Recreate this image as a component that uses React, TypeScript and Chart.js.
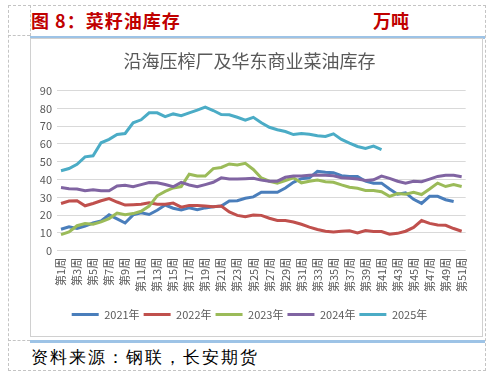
import React, { useEffect, useRef } from "react";
import { Chart, registerables } from "chart.js";

Chart.register(...registerables);

const weeks: string[] = Array.from({ length: 51 }, (_, i) => `第${i + 1}周`);

const seriesNames = ["2021年", "2022年", "2023年", "2024年", "2025年"];
const seriesColors = ["#4A7EBB", "#C0504D", "#9BBB59", "#8064A2", "#4BACC6"];

const y2021: (number | null)[] = [12.1, 13.5, 12.5, 13.9, 15.6, 16.8, 20.2, 17.9, 15.6, 20.2, 21.4, 20.4, 22.8, 25.7, 23.9, 23, 24.1, 23.1, 24.1, 24.7, 25.1, 28, 28.1, 29.5, 30.3, 32.9, 32.9, 32.9, 35.3, 38.5, 40.5, 41, 44.7, 44.1, 43.9, 42.2, 41.8, 41.8, 39.1, 38, 38, 34.7, 31.8, 32.6, 28.9, 26.6, 30.6, 30.6, 28.7, 27.7, null];
const y2022: (number | null)[] = [26.6, 28, 28.1, 25.3, 26.6, 28.1, 29.3, 27.4, 25.7, 25.9, 26.1, 27, 26.1, 26.1, 26.8, 24.5, 25.5, 25.4, 25.1, 24.7, 25.1, 21.8, 19.9, 19.1, 20.1, 19.9, 18.3, 17, 17, 16.2, 14.9, 13.3, 12, 11, 10.6, 11, 11.2, 10, 11.4, 10.8, 10.8, 9.3, 9.8, 11, 13.1, 17, 15.4, 14.5, 14.3, 12.5, 11];
const y2023: (number | null)[] = [9.1, 10.6, 14.1, 15.3, 14.9, 16.2, 18.1, 21.2, 20.2, 20.9, 22.2, 25.1, 30.9, 33.4, 35.3, 36.1, 43, 42, 42, 46.2, 46.8, 48.8, 48.2, 49.1, 45.7, 40.9, 39.1, 38, 39.5, 41, 38.2, 39.1, 39.7, 38.8, 38.5, 37, 35.7, 35.1, 33.9, 33.9, 33.2, 30.6, 32.2, 31.8, 32.9, 31.6, 34.7, 38, 36.1, 37.2, 36.1];
const y2024: (number | null)[] = [35.5, 34.9, 34.7, 33.7, 34.3, 33.7, 33.7, 36.4, 36.8, 36, 37.2, 38.4, 38.2, 37.2, 36, 38.4, 37, 36, 37.2, 38.5, 41, 40.3, 40.3, 40.5, 40.7, 39.7, 39.1, 39.1, 41.3, 42, 42, 42.4, 42.6, 42.5, 42.2, 41, 40.7, 40.3, 39.5, 39.9, 42, 40.7, 39.1, 38, 39, 38.8, 40.3, 41.8, 42.4, 42.4, 41.6];
const y2025: (number | null)[] = [45, 46.2, 48.6, 52.8, 53.4, 60.7, 62.6, 65.3, 65.9, 71.9, 73.6, 77.5, 77.5, 75.4, 76.9, 75.9, 77.5, 79, 80.7, 78.8, 76.5, 76.4, 75, 73.4, 75, 71.9, 69.4, 68, 67, 65.3, 65.9, 65.5, 64.6, 64.2, 65.7, 62.6, 60.5, 58.6, 57.5, 58.8, 56.9, null, null, null, null, null, null, null, null, null, null];

const seriesValues = [y2021, y2022, y2023, y2024, y2025];

const FONT = '"Noto Sans CJK SC", "Noto Sans", sans-serif';

function ChartBox() {
  const ref = useRef<HTMLCanvasElement | null>(null);
  useEffect(() => {
    if (!ref.current) return;
    const chart = new Chart(ref.current, {
      type: "line",
      data: {
        labels: weeks,
        datasets: seriesValues.map((vals, i) => ({
          label: seriesNames[i],
          data: vals,
          borderColor: seriesColors[i],
          backgroundColor: seriesColors[i],
          borderWidth: 3,
          pointRadius: 0,
          tension: 0,
          order: 4 - i,
        })),
      },
      options: {
        animation: false,
        responsive: false,
        layout: { padding: { left: 0, right: 14, top: 0, bottom: 6 } },
        plugins: {
          title: {
            display: true,
            text: "沿海压榨厂及华东商业菜油库存",
            color: "#595959",
            font: { family: FONT, size: 18, weight: "normal" },
            padding: { top: 11, bottom: 19 },
          },
          legend: {
            position: "bottom",
            labels: {
              color: "#595959",
              font: { family: FONT, size: 11 },
              boxWidth: 27,
              boxHeight: 3,
              padding: 4,
              sort: (a: any, b: any) => a.datasetIndex - b.datasetIndex,
              generateLabels: (chart: any) => {
                const items = Chart.defaults.plugins.legend.labels.generateLabels(chart);
                return items.map((it: any) => ({ ...it, lineWidth: 0, strokeStyle: "transparent" }));
              },
            },
          },
          tooltip: { enabled: false },
        },
        scales: {
          x: {
            offset: true,
            afterFit: (s: any) => {
              s.height = s.height + 6;
            },
            grid: { display: false, drawTicks: false },
            border: { display: false },
            ticks: {
              autoSkip: false,
              maxRotation: 90,
              minRotation: 90,
              padding: 7,
              color: "#595959",
              font: { family: FONT, size: 11 },
              callback: (_v: any, idx: number) => (idx % 2 === 0 ? weeks[idx] : ""),
            },
          },
          y: {
            min: 0,
            max: 90,
            afterFit: (s: any) => {
              s.width = 26;
            },
            grid: { color: "#D9D9D9", lineWidth: 1, drawTicks: false },
            border: { display: false },
            ticks: {
              stepSize: 10,
              padding: 5,
              color: "#595959",
              font: { family: FONT, size: 11 },
            },
          },
        },
      },
    });
    return () => chart.destroy();
  }, []);
  return <canvas ref={ref} width={451} height={297} style={{ display: "block", width: 451, height: 297 }} />;
}

export default function App() {
  const dash = "1px dashed #C4C4C4";
  return (
    <div style={{ position: "absolute", left: 0, top: 0, width: 491, height: 380, background: "#fff", overflow: "hidden" }}>
      <div style={{ position: "absolute", left: 8, top: 5, width: 476, height: 364, borderTop: dash, borderBottom: dash, borderLeft: dash, borderRight: dash }} />
      <div style={{ position: "absolute", left: 30, top: 5, width: 0, height: 31, borderLeft: dash }} />
      <div style={{ position: "absolute", left: 8, top: 35, width: 22, height: 0, borderTop: dash }} />
      <div style={{ position: "absolute", left: 8, top: 340, width: 22, height: 0, borderTop: dash }} />
      <div style={{ position: "absolute", left: 30, top: 36, width: 455, height: 3, background: "#9DC3E6" }} />
      <div style={{ position: "absolute", left: 30, top: 340, width: 455, height: 3, background: "#9DC3E6" }} />
      <div style={{ position: "absolute", left: 31, top: 7, fontFamily: FONT, fontSize: 18, lineHeight: "26px", fontWeight: "bold", color: "#C00000", whiteSpace: "nowrap", letterSpacing: 1 }}>
        图 8：菜籽油库存
      </div>
      <div style={{ position: "absolute", left: 373, top: 7, fontFamily: FONT, fontSize: 18, lineHeight: "26px", fontWeight: "bold", color: "#C00000", whiteSpace: "nowrap" }}>
        万吨
      </div>
      <div style={{ position: "absolute", left: 30, top: 38, width: 451, height: 297, border: "1px solid #D0D0D0" }}>
        <ChartBox />
      </div>
      <div style={{ position: "absolute", left: 31, top: 346, fontFamily: "serif", fontSize: 17, lineHeight: "24px", color: "#000", whiteSpace: "nowrap", letterSpacing: 2 }}>
        资料来源：钢联，长安期货
      </div>
    </div>
  );
}
